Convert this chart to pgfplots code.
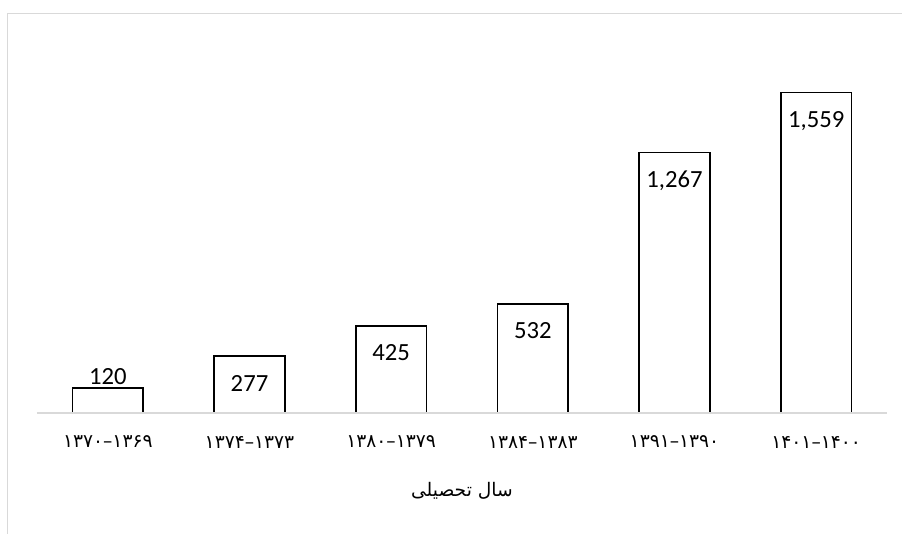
\documentclass[border=0pt]{standalone}
\usepackage{fontspec}
\usepackage{pgfplots}
\pgfplotsset{compat=1.18}
\setmainfont{Carlito}
\newfontfamily\carlito{Carlito}
\newfontfamily\digitfont{DejaVu Sans}
\newfontfamily\arabicfont[Script=Arabic]{DejaVu Sans}
\TeXXeTstate=1
\definecolor{axisgray}{HTML}{D9D9D9}

\begin{document}
\begin{tikzpicture}
\begin{axis}[
  at={(0,0)}, anchor=south west,
  scale only axis,
  width=637.5pt, height=277.5pt,
  xmin=-0.5, xmax=5.5,
  ymin=0, ymax=1800,
  axis line style={draw=none},
  ytick=\empty,
  xtick={0,1,2,3,4,5},
  xticklabels={۱۳۷۰–۱۳۶۹,۱۳۷۴–۱۳۷۳,۱۳۸۰–۱۳۷۹,۱۳۸۴–۱۳۸۳,۱۳۹۱–۱۳۹۰,۱۴۰۱–۱۴۰۰},
  major tick length=0pt,
  xticklabel style={font=\digitfont\fontsize{14}{16}\selectfont, anchor=center, yshift=-21.75pt},
  xlabel={\beginR سال تحصیلی\endR},
  xlabel style={font=\arabicfont\fontsize{14}{16}\selectfont, at={(axis description cs:0.5,0)}, anchor=center, yshift=-58.5pt},
  clip=false,
  /pgf/number format/assume math mode=true,
  /pgf/number format/1000 sep={,},
]
% bars
\addplot[ybar, bar width=0.5, fill=white, draw=black, line width=1.3pt]
coordinates {(0,120)(1,277)(2,425)(3,532)(4,1267)(5,1559)};
% axis line over the bar bottoms
\draw[axisgray, line width=1.2pt] (rel axis cs:0,0) -- (rel axis cs:1,0);
% labels inside the bars
\addplot[draw=none, mark=none, nodes near coords, point meta=y,
  every node near coord/.append style={font=\carlito\fontsize{18.5}{20}\selectfont, anchor=base, yshift=-26.5pt}]
coordinates {(1,277)(2,425)(3,532)(4,1267)(5,1559)};
% label above the small bar
\addplot[draw=none, mark=none, nodes near coords, point meta=y,
  every node near coord/.append style={font=\carlito\fontsize{18.5}{20}\selectfont, anchor=base, yshift=3pt}]
coordinates {(0,120)};
\end{axis}
\pgfresetboundingbox
\path[use as bounding box] (-27.75pt,-90.75pt) rectangle (648.75pt,309.75pt);
\draw[axisgray, line width=0.75pt] (-21.75pt,-95pt) -- (-21.75pt,299.25pt) -- (655pt,299.25pt);
\end{tikzpicture}
\end{document}
